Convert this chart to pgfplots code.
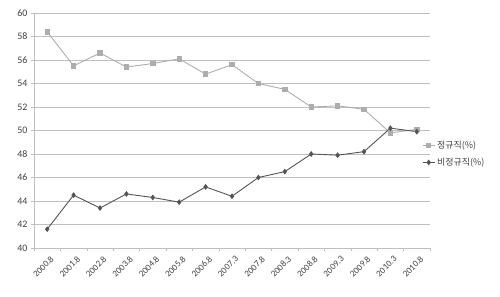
\documentclass[border=0pt]{standalone}
\usepackage{pgfplots}
\pgfplotsset{compat=1.18}
\usepackage{fontspec}
\setmainfont{Carlito}
\newfontfamily\kr{Noto Sans CJK KR}
\definecolor{lg}{gray}{0.68}
\definecolor{dg}{gray}{0.33}
\definecolor{gridc}{gray}{0.75}
\begin{document}
\begin{tikzpicture}
\useasboundingbox (-34bp,-49bp) rectangle (466bp,248bp);
\begin{axis}[
  at={(0,0)}, anchor=south west,
  scale only axis, width=396bp, height=235bp,
  xmin=-0.5, xmax=14.5, ymin=40, ymax=60,
  ytick={40,42,...,60},
  xtick={0,...,14},
  xticklabels={2000.8,2001.8,2002.8,2003.8,2004.8,2005.8,2006.8,2007.3,2007.8,2008.3,2008.8,2009.3,2009.8,2010.3,2010.8},
  minor xtick={-0.5,0.5,...,14.5},
  major tick length=3bp,
  minor tick length=3bp,
  major x tick style={draw=none},
  xticklabel style={rotate=45, anchor=north east, font=\fontsize{9}{10}\selectfont, text=black!75, inner sep=1pt, yshift=-4bp},
  yticklabel style={font=\fontsize{10}{11}\selectfont, text=black!75},
  /pgf/number format/assume math mode=true,
  axis x line*=bottom, axis y line*=left,
  axis line style={gridc, -},
  every tick/.style={gridc},
  ymajorgrids, grid style={gridc, line width=0.6pt},
  tick align=outside,
  legend style={at={(0.98,0.40)}, anchor=west, draw=none, fill=none, inner sep=0pt, font=\kr\fontsize{9}{10}\selectfont, text=black!75, row sep=4pt},
  legend cell align=left,
  legend image code/.code={\draw[mark repeat=2,mark phase=2] plot coordinates {(0bp,0bp) (6bp,0bp) (12bp,0bp)};},
]
\addplot[lg, line width=0.9pt, mark=square*, mark size=2.2pt, mark options={lg}] coordinates {
(0,58.4) (1,55.5) (2,56.6) (3,55.4) (4,55.7) (5,56.1) (6,54.8) (7,55.6) (8,54.0) (9,53.5) (10,52.0) (11,52.1) (12,51.8) (13,49.8) (14,50.1)};
\addlegendentry{정규직(\%)}
\addplot[dg, line width=0.9pt, mark=diamond*, mark size=2.2pt, mark options={dg}] coordinates {
(0,41.6) (1,44.5) (2,43.4) (3,44.6) (4,44.3) (5,43.9) (6,45.2) (7,44.4) (8,46.0) (9,46.5) (10,48.0) (11,47.9) (12,48.2) (13,50.2) (14,49.9)};
\addlegendentry{비정규직(\%)}
\end{axis}
\end{tikzpicture}
\end{document}
